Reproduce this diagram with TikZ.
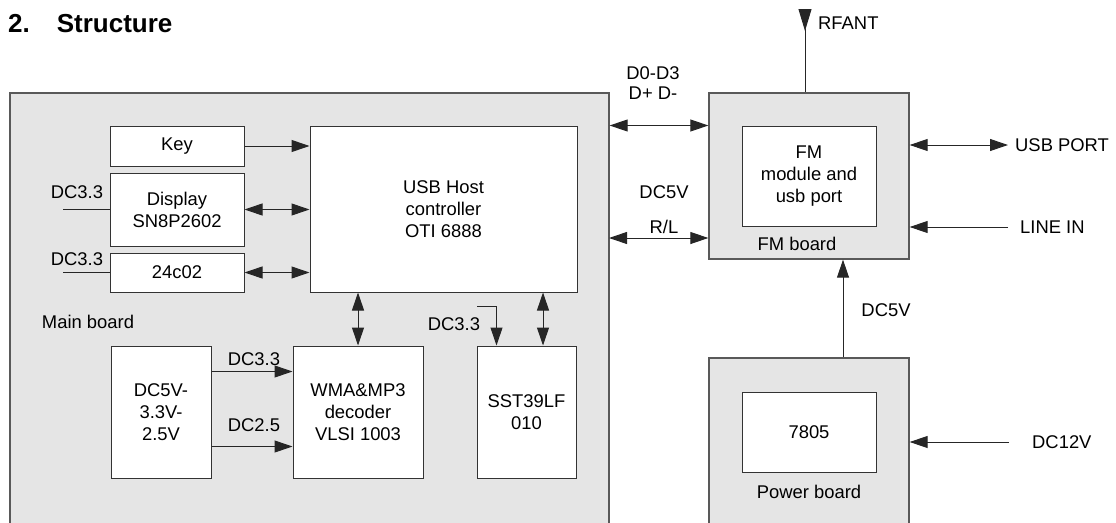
\documentclass[tikz,border=0pt]{standalone}
\usepackage{fontspec}
\setmainfont{Liberation Sans}
\usetikzlibrary{arrows.meta,calc}
\tikzset{
  every node/.style={font=\fontsize{18.4}{22}\selectfont},
  board/.style={draw=black!65,line width=1.3pt,fill=black!10,inner sep=0pt},
  chip/.style={draw=black!80,line width=1pt,fill=white,inner sep=0pt,align=center},
  lbl/.style={inner sep=0pt,align=center},
  wire/.style={draw=black!85,line width=1pt},
  sig/.style={wire,-{Triangle[length=18pt,width=12pt]}},
  bus/.style={wire,{Triangle[length=18pt,width=12pt]}-{Triangle[length=18pt,width=12pt]}},
}
\begin{document}
\begin{tikzpicture}[x=1pt,y=-1pt]
  \useasboundingbox (0,0) rectangle (1116,522);
  \clip (0,0) rectangle (1116,522);

  \node[lbl,anchor=base west,font=\fontsize{26}{30}\selectfont\bfseries] (title) at (8,32) {2.\hspace{27pt}Structure};

  % boards
  \node[board,minimum width=599,minimum height=447] (mainb) at (309.5,316.5) {};
  \node[board,minimum width=200,minimum height=166] (fmb) at (809,176) {};
  \node[board,minimum width=200,minimum height=182] (pwrb) at (809,449) {};

  % main board
  \node[chip,minimum width=134,minimum height=40] (key) at (177,146) {Key};
  \node[chip,minimum width=134,minimum height=73] (disp) at (177,209.5) {Display\\SN8P2602};
  \node[chip,minimum width=134,minimum height=39] (eep) at (177,272.5) {24c02};
  \node[chip,minimum width=267,minimum height=166] (host) at (443.5,209) {USB Host\\controller\\OTI 6888};
  \node[chip,minimum width=100,minimum height=132] (reg) at (161,412) {DC5V-\\3.3V-\\2.5V};
  \node[chip,minimum width=130,minimum height=132] (dec) at (358,412) {WMA\&MP3\\decoder\\VLSI 1003};
  \node[chip,minimum width=99,minimum height=132] (flash) at (526.5,412) {SST39LF\\010};
  \node[lbl] (mainlbl) at (88,322) {Main board};

  % fm and power boards
  \node[chip,minimum width=134,minimum height=100] (fmmod) at (809,176) {FM\\module and\\usb port};
  \node[lbl] (fmlbl) at (797,244) {FM board};
  \node[chip,minimum width=134,minimum height=80] (reg78) at (809,432) {7805};
  \node[lbl] (pwrlbl) at (809,492) {Power board};

  % labels
  \node[lbl] (dcA) at (77,192) {DC3.3};
  \node[lbl] (dcB) at (77,259) {DC3.3};
  \node[lbl] (dcC) at (254,359) {DC3.3};
  \node[lbl] (dcD) at (254,425) {DC2.5};
  \node[lbl] (dcE) at (454,324) {DC3.3};
  \node[lbl,font=\fontsize{18.4}{20}\selectfont] (dbus) at (653,83) {D0-D3\\D+ D-};
  \node[lbl] (dcF) at (664,192) {DC5V};
  \node[lbl] (rl) at (664,227) {R/L};
  \node[lbl] (dcG) at (886,310) {DC5V};
  \node[lbl,anchor=west] (rfant) at (818,23) {RFANT};
  \node[lbl,anchor=west] (usbp) at (1015,145) {USB PORT};
  \node[lbl,anchor=west] (linein) at (1020,227) {LINE IN};
  \node[lbl,anchor=west] (dc12) at (1032,442) {DC12V};

  \coordinate (inA) at (63,209.5);
  \coordinate (inB) at (63,272.5);
  \coordinate (sstin) at (477,306);
  \coordinate (flashpw) at ($(flash.north west)+(20,0)$);
  \coordinate (flashio) at ($(flash.north)+(16.5,0)$);
  \coordinate (o33) at ($(reg.north east)+(0,26)$);
  \coordinate (o25) at ($(reg.south east)+(0,-32)$);
  \coordinate (dtop) at (mainb.east |- fmmod.north);
  \coordinate (rlc) at (609,238);
  \coordinate (p5) at ($(pwrb.north)+(34,0)$);
  \coordinate (ant) at (805,9);

  \draw[sig] (key.east) -- (key.east -| host.west);
  \draw[bus] (disp.east) -- (disp.east -| host.west);
  \draw[bus] (eep.east) -- (eep.east -| host.west);
  \draw[wire] (inA) -- (disp.west);
  \draw[wire] (inB) -- (eep.west);
  \draw[bus] (host.south -| dec.north) -- (dec.north);
  \draw[bus] (flashio |- host.south) -- (flashio);
  \draw[sig] (sstin) -| (flashpw);
  \draw[sig] (o33) -- (o33 -| dec.west);
  \draw[sig] (o25) -- (o25 -| dec.west);

  \draw[bus] (dtop) -- (dtop -| fmb.west);
  \draw[bus] (rlc) -- (rlc -| fmb.west);
  \draw[bus] (fmb.east |- usbp) -- ([xshift=-7pt]usbp.west);
  \draw[sig] ([xshift=-12pt]linein.west) -- (fmb.east |- linein);
  \draw[sig] ([xshift=-23pt]dc12.west) -- (pwrb.east |- dc12);
  \draw[sig] (p5) -- (p5 |- fmb.south);
  \draw[wire,{Triangle[reversed,length=22pt,width=13pt]}-] (ant) -- (ant |- fmb.north);
\end{tikzpicture}
\end{document}
